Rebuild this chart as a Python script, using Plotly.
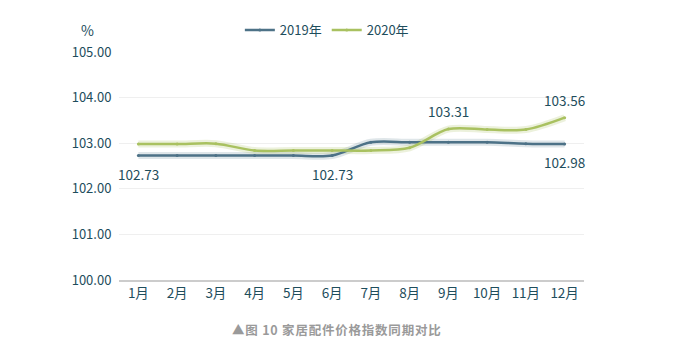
import plotly.graph_objects as go

months = ["1月", "2月", "3月", "4月", "5月", "6月", "7月", "8月", "9月", "10月", "11月", "12月"]
y2019 = [102.73, 102.73, 102.73, 102.73, 102.73, 102.73, 103.02, 103.02, 103.02, 103.02, 102.99, 102.98]
y2020 = [102.98, 102.98, 102.99, 102.84, 102.84, 102.84, 102.84, 102.90, 103.31, 103.30, 103.30, 103.56]
label_idx_2019 = [0, 5, 11]   # labels below the line
label_idx_2020 = [8, 11]      # labels above the line
y_ticks = [100, 101, 102, 103, 104, 105]

c2019 = "#4d7287"
c2020 = "#a9c160"
txt = "#1e4d5c"
font = "Noto Sans CJK SC, Microsoft YaHei, sans-serif"

fig = go.Figure()
# soft shadow beneath lines
for vals, col in [(y2019, "rgba(77,114,135,0.18)"), (y2020, "rgba(169,193,96,0.22)")]:
    fig.add_trace(go.Scatter(x=months, y=vals, mode="lines", line=dict(color=col, width=7, shape="spline", smoothing=0.9),
                             hoverinfo="skip", showlegend=False))

fig.add_trace(go.Scatter(x=months, y=y2019, name="2019年", mode="lines+markers",
                         line=dict(color=c2019, width=2.5, shape="spline", smoothing=0.9),
                         marker=dict(size=3, color=c2019)))
fig.add_trace(go.Scatter(x=months, y=y2020, name="2020年", mode="lines+markers",
                         line=dict(color=c2020, width=2.5, shape="spline", smoothing=0.9),
                         marker=dict(size=3, color=c2020)))

annotations = []
for i in label_idx_2019:
    annotations.append(dict(x=months[i], y=y2019[i], xref="x", yref="y", text=f"{y2019[i]:.2f}",
                            showarrow=False, yshift=-18, font=dict(size=13.5, color=txt)))
for i in label_idx_2020:
    annotations.append(dict(x=months[i], y=y2020[i], xref="x", yref="y", text=f"{y2020[i]:.2f}",
                            showarrow=False, yshift=18, font=dict(size=13.5, color=txt)))

caption = "\u200a".join("▲图 10 家居配件价格指数同期对比")
annotations += [
    dict(text="%", xref="paper", yref="paper", x=-0.067, y=1.096, showarrow=False,
         font=dict(size=14, color=txt), xanchor="center", yanchor="middle"),
    dict(text="<b>" + caption + "</b>", xref="paper", yref="paper", x=0.467, y=-0.215,
         showarrow=False, font=dict(size=12.5, color="#9a9a9a"), xanchor="center", yanchor="middle"),
]

fig.update_layout(
    width=684, height=353,
    margin=dict(l=111, r=108, t=44, b=81, autoexpand=False),
    paper_bgcolor="white", plot_bgcolor="white",
    font=dict(family=font, color=txt, size=13),
    showlegend=True,
    legend=dict(orientation="h", x=0.447, xanchor="center", y=1.096, yanchor="middle",
                font=dict(size=13, color=txt), itemwidth=30, tracegroupgap=0),
    xaxis=dict(type="category", showgrid=False, showline=True, linecolor="#cccccc", linewidth=2,
               ticks="", tickfont=dict(size=13.5, color=txt), range=[-0.5, 11.5]),
    yaxis=dict(range=[100, 105], tickvals=y_ticks, tickformat=".2f", showgrid=True, gridcolor="#efefef",
               gridwidth=1, zeroline=False, showline=False, tickfont=dict(size=13, color=txt), ticklen=4, ticks="outside",
               tickcolor="white"),
    annotations=annotations,
)
fig.write_html("out.html")
